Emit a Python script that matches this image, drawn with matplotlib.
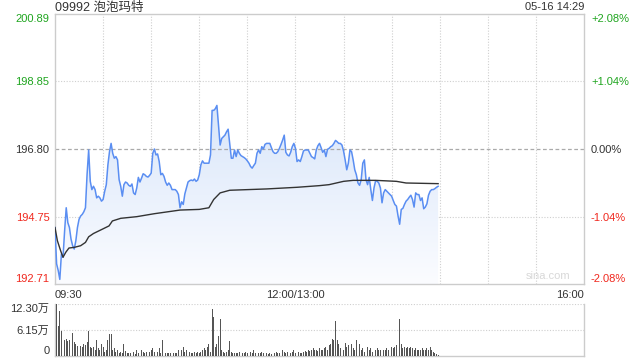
import numpy as np
import matplotlib
matplotlib.use("Agg")
import matplotlib.pyplot as plt
from matplotlib.patches import Polygon
from matplotlib.colors import LinearSegmentedColormap

# ---------------- data ----------------
title = "09992 泡泡玛特"
stamp = "05-16 14:29"
prev_close = 196.80
price_ticks = [192.71, 194.75, 196.80, 198.85, 200.89]
pct_labels = ["-2.08%", "-1.04%", "0.00%", "+1.04%", "+2.08%"]
vol_ticks = [0, 6.15, 12.30]
vol_labels = ["0", "6.15万", "12.30万"]
time_labels = ["09:30", "12:00/13:00", "16:00"]
time_pos = [0, 150, 330]

prices = [
    194.42, 193.32, 193.12, 192.85, 193.62, 193.52, 194.32, 195.02, 194.57, 194.42,
    194.07, 193.87, 193.77, 194.02, 194.42, 194.67, 194.77, 194.82, 194.90, 195.02,
    196.02, 196.77, 195.82, 195.57, 195.67, 195.57, 195.32, 195.37, 195.32, 195.22,
    195.27, 195.52, 195.72, 196.32, 196.72, 196.97, 196.67, 196.52, 196.57, 196.47,
    195.87, 195.67, 195.37, 195.72, 195.80, 195.77, 195.70, 195.67, 195.74, 195.47,
    195.42, 195.62, 195.94, 195.80, 195.92, 196.05, 196.02, 195.97, 195.95, 196.00,
    196.07, 196.67, 196.80, 196.62, 196.65, 196.42, 196.02, 196.06, 195.97, 195.80,
    195.70, 195.77, 195.70, 195.57, 195.57, 195.57, 195.52, 195.42, 195.02, 195.20,
    195.12, 195.44, 195.62, 195.80, 195.84, 195.86, 195.84, 195.89, 195.82, 195.86,
    196.02, 196.32, 196.44, 196.37, 196.37, 196.37, 196.37, 196.62, 197.97, 197.97,
    198.02, 198.12, 197.52, 196.92, 197.12, 197.17, 197.22, 197.32, 197.40, 196.97,
    196.52, 196.52, 196.77, 196.57, 196.77, 196.67, 196.60, 196.57, 196.54, 196.50,
    196.44, 196.37, 196.27, 196.22, 196.30, 196.37, 196.67, 196.77, 196.67, 196.87,
    196.80, 196.94, 196.97, 196.97, 196.97, 196.84, 196.72, 196.67, 196.67, 196.72,
    196.82, 196.94, 197.07, 197.22, 196.70, 196.62, 196.59, 196.70, 196.87, 196.97,
    196.82, 196.42, 196.47, 196.42, 196.57, 196.74, 196.77, 196.77, 196.77, 196.67,
    196.57, 196.54, 196.50, 196.77, 196.90, 196.97, 196.84, 196.70, 196.77, 196.57,
    196.79, 196.82, 196.87, 196.90, 196.97, 197.06, 197.02, 196.97, 196.97, 196.92,
    196.74, 196.47, 196.17, 196.37, 196.77, 196.72, 196.47, 196.17, 196.02, 195.77,
    195.70, 195.87, 196.37, 196.47, 195.87, 195.72, 195.94, 195.57, 195.24, 195.62,
    195.84, 195.82, 195.77, 195.62, 195.17, 195.47, 195.57, 195.52, 195.47, 195.42,
    195.37, 195.24, 195.12, 195.07, 194.77, 194.52, 194.97, 195.00, 195.12, 195.22,
    195.27, 195.34, 195.40, 195.27, 195.04, 195.47, 195.42, 195.42, 195.24, 195.32,
    194.99, 195.04, 195.14, 195.40, 195.52, 195.57, 195.57, 195.60, 195.64, 195.67,
]

avg_minutes = [0, 1.5, 3.5, 5, 6.7, 8.7, 12, 16, 19, 21, 24, 29.5, 33.7, 35.8, 41, 51,
               62, 78, 90, 96, 99, 103, 109, 132, 151, 165, 171, 180, 186, 200, 213, 219, 239]
avg_prices = [194.42, 194.02, 193.72, 193.52, 193.67, 193.80, 193.82, 193.87, 193.97, 194.14,
              194.24, 194.37, 194.47, 194.62, 194.70, 194.75, 194.84, 194.95, 194.97, 195.02,
              195.27, 195.47, 195.55, 195.59, 195.64, 195.69, 195.72, 195.82, 195.85, 195.85,
              195.82, 195.77, 195.75]

volumes = [  # 万股 per minute
    6.4, 12.3, 7.2, 10.6, 6.0, 3.7, 3.8, 4.1, 3.5, 3.8,
    3.3, 5.4, 3.3, 2.9, 2.3, 2.2, 2.3, 2.2, 2.9, 2.5,
    3.3, 5.8, 2.2, 1.8, 2.2, 1.4, 3.7, 1.8, 1.4, 2.9,
    2.2, 1.0, 1.4, 3.7, 5.1, 5.1, 1.4, 1.8, 1.0, 1.4,
    0.8, 1.0, 0.8, 2.9, 1.2, 0.8, 0.6, 0.8, 0.6, 1.0,
    0.5, 1.4, 0.6, 0.8, 1.4, 1.0, 0.6, 1.0, 1.8, 1.0,
    1.4, 1.8, 1.0, 1.4, 1.0, 1.8, 0.8, 3.7, 1.0, 0.6,
    0.8, 0.6, 0.8, 1.0, 0.6, 0.8, 0.6, 1.4, 5.6, 1.4,
    2.2, 1.0, 1.4, 0.6, 1.0, 0.6, 0.8, 1.0, 0.6, 1.0,
    0.8, 1.0, 1.4, 1.8, 1.4, 2.2, 2.9, 1.0, 11.2, 9.2,
    2.2, 2.9, 4.8, 8.7, 1.4, 1.0, 0.8, 1.0, 1.4, 3.5,
    1.0, 0.8, 0.6, 0.8, 0.6, 1.0, 0.6, 0.8, 0.6, 1.0,
    0.8, 0.6, 1.0, 0.8, 1.4, 0.6, 1.0, 0.8, 0.6, 1.0,
    0.8, 1.0, 0.6, 0.5, 0.6, 0.5, 0.8, 0.6, 1.0, 0.8,
    0.6, 1.4, 1.5, 1.0, 0.8, 1.0, 1.4, 0.8, 1.0, 1.4,
    0.8, 3.3, 1.0, 0.6, 0.8, 1.0, 1.2, 1.0, 1.4, 1.2,
    1.4, 1.8, 1.4, 1.5, 1.2, 1.8, 1.5, 1.4, 1.8, 2.2,
    1.5, 2.5, 2.9, 4.1, 3.7, 8.2, 3.7, 2.9, 1.8, 2.2,
    1.4, 3.1, 2.2, 2.5, 1.4, 2.9, 1.8, 1.4, 3.7, 2.2,
    2.9, 1.4, 1.8, 1.0, 1.4, 2.2, 1.4, 1.8, 1.0, 1.5,
    1.4, 1.8, 1.4, 1.5, 1.8, 1.4, 1.5, 1.8, 1.4, 1.8,
    2.2, 1.8, 2.2, 2.5, 2.2, 8.7, 2.9, 1.8, 2.2, 1.8,
    2.2, 1.8, 2.2, 1.8, 1.4, 1.8, 1.4, 1.5, 1.4, 1.8,
    1.4, 1.5, 1.8, 1.4, 2.2, 1.4, 1.0, 0.6, 0.5, 0.2,
]

# ---------------- style ----------------
W, H = 640, 360
GREEN = "#1fa51f"
RED = "#f0281e"
DARK = "#333333"
GRID = "#cfcfcf"
SPINE = "#cccccc"
LINE = "#5a8ef2"
FONT = ["Liberation Sans", "Noto Sans CJK SC", "DejaVu Sans"]
plt.rcParams["font.family"] = FONT

fig = plt.figure(figsize=(W / 100, H / 100), dpi=100)

def frac(x0, y0, x1, y1):
    return [x0 / W, 1 - y1 / H, (x1 - x0) / W, (y1 - y0) / H]

ax = fig.add_axes(frac(55, 14, 584, 284))
axv = fig.add_axes(frac(55, 304, 584, 356))

minutes = np.arange(len(prices))
ymin, ymax = price_ticks[0], price_ticks[-1]

# gradient fill under the price line
verts = [(minutes[0], ymin)] + list(zip(minutes, prices)) + [(minutes[-1], ymin)]
poly = Polygon(verts, closed=True, facecolor="none", edgecolor="none")
ax.add_patch(poly)
cmap = LinearSegmentedColormap.from_list("g", ["#fbfcff", "#d9e6fa"])
grad = np.linspace(0, 1, 256).reshape(-1, 1)
im = ax.imshow(grad, extent=[minutes[0], minutes[-1], ymin, max(prices)],
               aspect="auto", origin="lower", cmap=cmap, zorder=1)
im.set_clip_path(poly)

ax.plot(minutes, prices, color=LINE, lw=1.1, zorder=4)
ax.plot(avg_minutes, avg_prices, color=DARK, lw=1.0, zorder=5)

# grids
for t in range(30, 330, 30):
    ax.axvline(t, color=GRID, lw=0.8, ls=(0, (1, 1.5)), zorder=0)
for p in price_ticks[1:-1]:
    if p == prev_close:
        ax.axhline(p, color="#aaaaaa", lw=0.9, ls=(0, (3, 2)), zorder=2)
    else:
        ax.axhline(p, color=GRID, lw=0.8, ls=(0, (1, 1.5)), zorder=0)

ax.set_xlim(0, 330)
ax.set_ylim(ymin, ymax)
for s in ax.spines.values():
    s.set_color(SPINE)
    s.set_linewidth(1.0)

colors = [RED, RED, DARK, GREEN, GREEN]
ax.set_yticks(price_ticks)
ax.set_yticklabels([f"{p:.2f}" for p in price_ticks])
ax.tick_params(axis="both", length=0, labelsize=8, pad=4)
for lab, c in zip(ax.get_yticklabels(), colors):
    lab.set_color(c)
ax.get_yticklabels()[0].set_va("bottom")
ax.get_yticklabels()[-1].set_va("top")

axr = ax.twinx()
axr.set_ylim(ymin, ymax)
axr.set_yticks(price_ticks)
axr.set_yticklabels(pct_labels)
axr.tick_params(axis="y", length=0, labelsize=8, pad=5)
for lab, c in zip(axr.get_yticklabels(), colors):
    lab.set_color(c)
axr.get_yticklabels()[0].set_va("bottom")
axr.get_yticklabels()[-1].set_va("top")
for s in axr.spines.values():
    s.set_visible(False)

ax.set_xticks(time_pos)
ax.set_xticklabels(time_labels, color=DARK)
xl = ax.get_xticklabels()
xl[0].set_ha("left")
xl[-1].set_ha("right")

fig.text(55 / W, 1 - 7.5 / H, title, fontsize=9, color=DARK, ha="left", va="center")
fig.text(584 / W, 1 - 7.5 / H, stamp, fontsize=8, color=DARK, ha="right", va="center")
ax.text(0.975, 0.012, "sina.com", transform=ax.transAxes, fontsize=8,
        color="#d8d8d8", ha="right", va="bottom")

# volume panel
axv.bar(minutes, volumes, width=0.55, color="#555555", align="center", zorder=3)
axv.set_xlim(0, 330)
axv.set_ylim(0, vol_ticks[-1])
axv.axhline(vol_ticks[1], color=GRID, lw=0.8, ls=(0, (1, 1.5)), zorder=0)
axv.axhline(vol_ticks[-1], color=GRID, lw=0.8, ls=(0, (1, 1.5)), zorder=0)
for name, s in axv.spines.items():
    s.set_color(SPINE)
    s.set_linewidth(1.0)
axv.spines["top"].set_visible(False)
axv.set_xticks([])
axv.set_yticks(vol_ticks)
axv.set_yticklabels(vol_labels, color=DARK)
axv.tick_params(axis="y", length=0, labelsize=8, pad=4)
axv.get_yticklabels()[0].set_va("bottom")
axv.get_yticklabels()[-1].set_va("top")

fig.savefig("out.png", dpi=100)
